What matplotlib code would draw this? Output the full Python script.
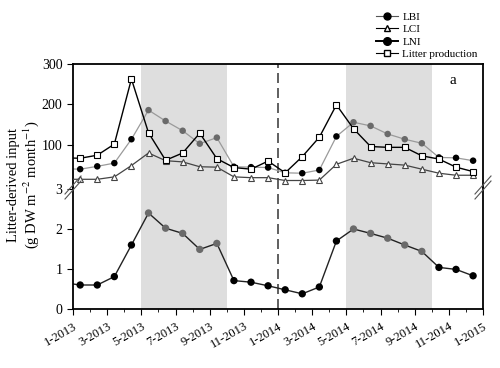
import matplotlib
matplotlib.use("Agg")
import matplotlib.pyplot as plt
from matplotlib.lines import Line2D
from matplotlib.ticker import MultipleLocator
import numpy as np

plt.rcParams['font.family'] = ['Liberation Serif', 'DejaVu Serif']
plt.rcParams['mathtext.fontset'] = 'stix'

# month index (0 = Jan 2013); first entry is Dec 2012 (clipped at left edge)
month_idx = list(range(-1, 24))
litter_production = [68, 67, 74.5, 102, 263, 130, 62, 80, 129, 66, 44, 40, 60,
                     31, 71, 119, 199, 140, 96, 94, 94, 73, 65, 45, 34]
lbi = [41, 40, 47, 55, 114, 186, 159, 135, 103, 118, 46, 45, 44,
       31, 30, 38, 121, 156, 147, 127, 114, 104, 69, 68, 61]
lci = [15, 15, 15, 21, 49, 80, 61, 58, 46, 45, 21, 19, 19,
       12, 12, 13, 52, 67, 56, 53, 50, 40, 30, 25, 25]
lni = [0.66, 0.60, 0.60, 0.81, 1.60, 2.40, 2.02, 1.89, 1.49, 1.64, 0.71, 0.67, 0.58,
       0.48, 0.38, 0.55, 1.70, 2.00, 1.89, 1.77, 1.60, 1.44, 1.04, 0.99, 0.83]
tick_labels = ['1-2013', '3-2013', '5-2013', '7-2013', '9-2013', '11-2013', '1-2014',
               '3-2014', '5-2014', '7-2014', '9-2014', '11-2014', '1-2015']
shade_spans = [(4, 9), (16, 21)]

x = np.array(month_idx) + 0.42
in_shade = np.array([any(a <= m < b for a, b in shade_spans) for m in month_idx])
dot_colors = np.where(in_shade, '#6a6a6a', '#000000')

W, H = 500, 368
fig = plt.figure(figsize=(W / 100, H / 100), dpi=100)
L, R = 73 / W, 483 / W
y_top, y_mid, y_bot = 1 - 64 / H, 1 - 187.5 / H, 1 - 309 / H
ax_t = fig.add_axes([L, y_mid, R - L, y_top - y_mid])
ax_b = fig.add_axes([L, y_bot, R - L, y_mid - y_bot])

for ax in (ax_t, ax_b):
    for a, b in shade_spans:
        ax.axvspan(a, b, color='#dedede', lw=0, zorder=0)
    ax.axvline(12, color='#444444', lw=1.2, ls=(0, (6, 3)), zorder=1)
    ax.set_xlim(0, 24)
    for s in ax.spines.values():
        s.set_linewidth(1.3)

# upper panel
ax_t.plot(x, lbi, color='#9a9a9a', lw=0.9, zorder=2)
ax_t.scatter(x, lbi, s=22, c=dot_colors, zorder=3, linewidths=0)
ax_t.plot(x, lci, color='#444444', lw=0.9, marker='^', ms=5, mfc='white',
          mec='#444444', mew=0.8, zorder=4)
ax_t.plot(x, litter_production, color='black', lw=1.0, marker='s', ms=5,
          mfc='white', mec='black', mew=0.8, zorder=5)
ax_t.set_ylim(-5.3, 300)
ax_t.set_yticks([100, 200, 300])
ax_t.spines['bottom'].set_visible(False)
ax_t.tick_params(axis='x', which='both', bottom=False, labelbottom=False)
ax_t.tick_params(axis='y', direction='out', length=4, labelsize=10)

# lower panel
ax_b.plot(x, lni, color='#222222', lw=1.0, zorder=2)
ax_b.scatter(x, lni, s=28, c=dot_colors, zorder=3, linewidths=0)
ax_b.set_ylim(0, 3.0375)
ax_b.set_yticks([0, 1, 2, 3])
ax_b.spines['top'].set_visible(False)
ax_b.tick_params(axis='y', direction='out', length=4, labelsize=10)
ax_b.set_xticks(np.arange(0, 25, 2))
ax_b.set_xticklabels(tick_labels, rotation=30, ha='right', rotation_mode='anchor',
                     fontsize=9)
ax_b.xaxis.set_minor_locator(MultipleLocator(1))
ax_b.tick_params(axis='x', which='major', direction='out', length=4, pad=4)
ax_b.tick_params(axis='x', which='minor', direction='out', length=2.5)

# axis break marks
def brk(xc, yc):
    for dy in (-2.5, 2.5):
        fig.add_artist(Line2D([(xc - 8) / W, (xc + 8) / W],
                              [1 - (yc + 9 + dy) / H, 1 - (yc - 9 + dy) / H],
                              color='#555555', lw=0.8))
brk(73, 187.5)
brk(483, 187.5)

fig.text(453 / W, 1 - 80 / H, 'a', fontsize=11, ha='center', va='center')
fig.text(14 / W, 1 - 185 / H, 'Litter-derived input', rotation=90,
         fontsize=10.5, ha='center', va='center')
fig.text(31 / W, 1 - 185 / H, '(g DW m$^{-2}$ month$^{-1}$)', rotation=90,
         fontsize=10.5, ha='center', va='center')

handles = [
    Line2D([], [], color='#555555', lw=0.8, marker='o', ms=5, mfc='black', mec='black'),
    Line2D([], [], color='black', lw=0.8, marker='^', ms=5, mfc='white', mec='black'),
    Line2D([], [], color='black', lw=1.4, marker='o', ms=5.5, mfc='black', mec='black'),
    Line2D([], [], color='black', lw=0.8, marker='s', ms=5, mfc='white', mec='black'),
]
fig.legend(handles, ['LBI', 'LCI', 'LNI', 'Litter production'],
           loc='upper left', bbox_to_anchor=(368 / W, 1 - 4 / H), frameon=False,
           fontsize=8, handlelength=2.0, handletextpad=0.4, labelspacing=0.25,
           borderpad=0.2)

fig.savefig('out.png', dpi=100)
